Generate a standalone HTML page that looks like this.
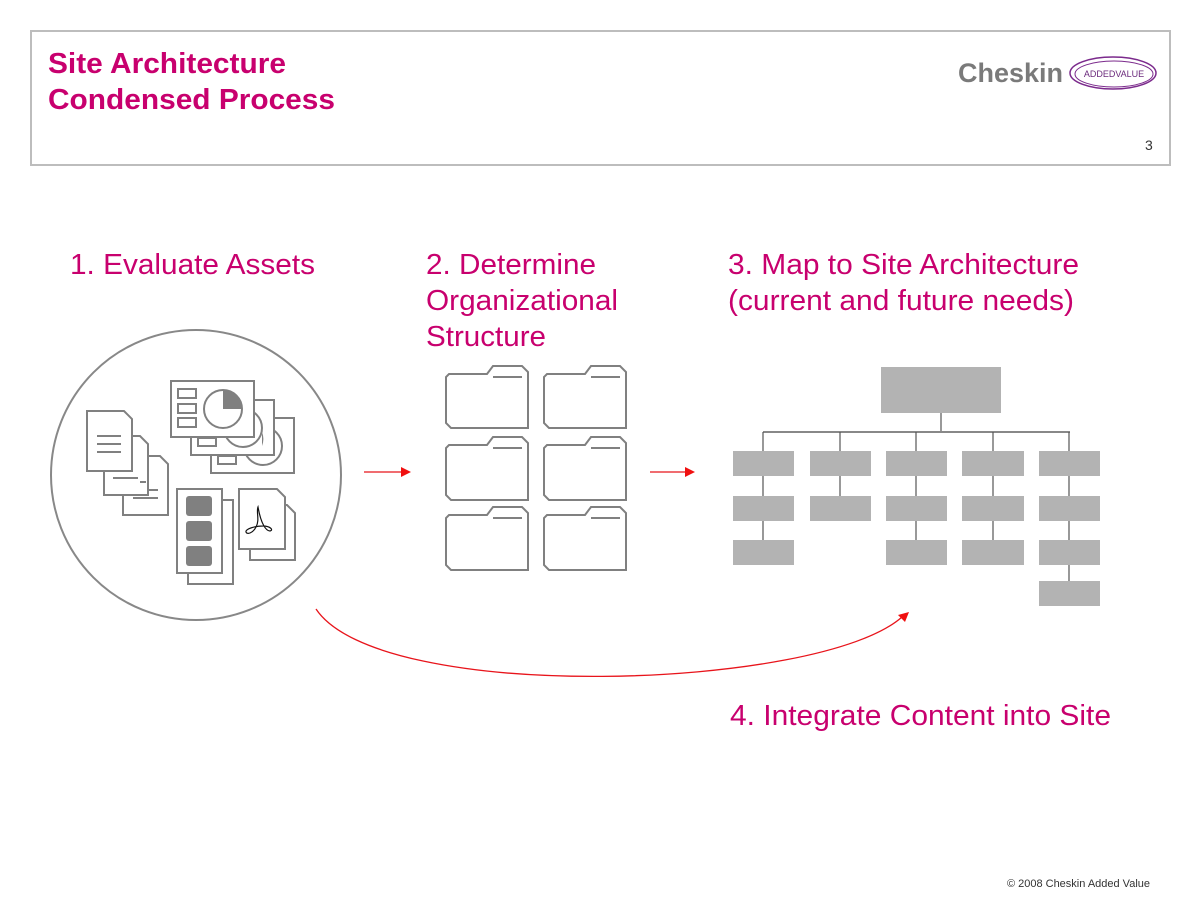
<!DOCTYPE html>
<html><head><meta charset="utf-8"><style>
html,body{margin:0;padding:0;background:#fff;}
svg{display:block;}
text{font-family:"Liberation Sans",Arial,sans-serif;}
</style></head><body>
<svg width="1200" height="900" viewBox="0 0 1200 900" xmlns="http://www.w3.org/2000/svg">
<rect x="31" y="31" width="1139" height="134" fill="#fff" stroke="#bdbdbd" stroke-width="2"/>
<text x="48" y="73" font-size="29" font-weight="bold" fill="#c8006e" textLength="238" lengthAdjust="spacingAndGlyphs">Site Architecture</text>
<text x="48" y="109" font-size="29" font-weight="bold" fill="#c8006e" textLength="287" lengthAdjust="spacingAndGlyphs">Condensed Process</text>
<text x="958" y="82" font-size="27" font-weight="bold" fill="#7a7a7a" textLength="105" lengthAdjust="spacingAndGlyphs">Cheskin</text>
<ellipse cx="1113" cy="73" rx="43" ry="16" fill="none" stroke="#7b2a8c" stroke-width="1.5"/>
<ellipse cx="1114" cy="74" rx="39" ry="13" fill="none" stroke="#7b2a8c" stroke-width="1"/>
<text x="1114" y="77" font-size="9" fill="#6b2a7c" text-anchor="middle">ADDEDVALUE</text>
<text x="1145" y="150" font-size="14" fill="#333">3</text>

<g font-size="29" fill="#c8006e">
<text x="70" y="274" textLength="245" lengthAdjust="spacingAndGlyphs">1. Evaluate Assets</text>
<text x="426" y="274" textLength="170" lengthAdjust="spacingAndGlyphs">2. Determine</text>
<text x="426" y="310" textLength="192" lengthAdjust="spacingAndGlyphs">Organizational</text>
<text x="426" y="346" textLength="120" lengthAdjust="spacingAndGlyphs">Structure</text>
<text x="728" y="274" textLength="351" lengthAdjust="spacingAndGlyphs">3. Map to Site Architecture</text>
<text x="728" y="310" textLength="346" lengthAdjust="spacingAndGlyphs">(current and future needs)</text>
<text x="730" y="725" textLength="381" lengthAdjust="spacingAndGlyphs">4. Integrate Content into Site</text>
</g>

<circle cx="196" cy="475" r="145" fill="none" stroke="#888" stroke-width="2"/>
<g fill="#fff" stroke="#808080" stroke-width="2">
<path d="M123,456 H160 L168,464 V515 H123 Z"/>
<path d="M104,436 H140 L148,444 V495 H104 Z"/>
<path d="M87,411 H124 L132,419 V471 H87 Z"/>
<line x1="97" y1="436" x2="121" y2="436"/><line x1="97" y1="444" x2="121" y2="444"/><line x1="97" y1="452" x2="121" y2="452"/>
<line x1="113" y1="478" x2="138" y2="478"/><line x1="140" y1="482" x2="146" y2="482"/>
<line x1="133" y1="498" x2="158" y2="498"/><line x1="148" y1="490" x2="158" y2="490"/>
<rect x="211" y="418" width="83" height="55"/>
<circle cx="263" cy="446" r="19"/>
<rect x="218" y="456" width="18" height="8"/>
<rect x="191" y="400" width="83" height="55"/>
<circle cx="243" cy="428" r="19"/>
<rect x="198" y="438" width="18" height="8"/>
<rect x="171" y="381" width="83" height="56"/>
<circle cx="223" cy="409" r="19"/>
<rect x="178" y="389" width="18" height="9"/><rect x="178" y="404" width="18" height="9"/><rect x="178" y="418" width="18" height="9"/>
<rect x="188" y="500" width="45" height="84"/>
<rect x="177" y="489" width="45" height="84"/>
<path d="M250,505 H287 L295,513 V560 H250 Z"/>
<path d="M239,489 H277 L285,497 V549 H239 Z"/>
</g>
<path d="M223,409 L223,390 A19,19 0 0 1 242,409 Z" fill="#808080"/>
<path d="M262,432 A19,19 0 0 1 262,446 Z" fill="#808080"/>
<g fill="#808080">
<rect x="186" y="496" width="26" height="20" rx="3"/>
<rect x="186" y="521" width="26" height="20" rx="3"/>
<rect x="186" y="546" width="26" height="20" rx="3"/>
</g>
<path d="M258,507 C256,512 260,520 256,527 C253,533 247,535 246,532 C245,529 255,526 263,526 C270,526 274,530 270,531 C266,531 261,524 258,507 Z" fill="none" stroke="#111" stroke-width="1.2"/>

<g fill="#fff" stroke="#808080" stroke-width="2">
<path d="M449,374 H487 L493,366 H522 L528,372 V428 H451 L446,423 V377 Z"/>
<path d="M547,374 H585 L591,366 H620 L626,372 V428 H549 L544,423 V377 Z"/>
<path d="M449,445 H487 L493,437 H522 L528,443 V500 H451 L446,495 V448 Z"/>
<path d="M547,445 H585 L591,437 H620 L626,443 V500 H549 L544,495 V448 Z"/>
<path d="M449,515 H487 L493,507 H522 L528,513 V570 H451 L446,565 V518 Z"/>
<path d="M547,515 H585 L591,507 H620 L626,513 V570 H549 L544,565 V518 Z"/>
<line x1="493" y1="377" x2="522" y2="377"/><line x1="591" y1="377" x2="620" y2="377"/>
<line x1="493" y1="448" x2="522" y2="448"/><line x1="591" y1="448" x2="620" y2="448"/>
<line x1="493" y1="518" x2="522" y2="518"/><line x1="591" y1="518" x2="620" y2="518"/>
</g>

<g stroke="#555" stroke-width="1.2">
<line x1="941" y1="413" x2="941" y2="432"/>
<line x1="763" y1="432" x2="1070" y2="432" stroke="#888" stroke-width="2"/>
<line x1="763" y1="432" x2="763" y2="540"/>
<line x1="840" y1="432" x2="840" y2="496"/>
<line x1="916" y1="432" x2="916" y2="540"/>
<line x1="993" y1="432" x2="993" y2="540"/>
<line x1="1069" y1="432" x2="1069" y2="581"/>
</g>
<g fill="#b3b3b3">
<rect x="881" y="367" width="120" height="46"/>
<rect x="733" y="451" width="61" height="25"/><rect x="810" y="451" width="61" height="25"/><rect x="886" y="451" width="61" height="25"/><rect x="962" y="451" width="62" height="25"/><rect x="1039" y="451" width="61" height="25"/>
<rect x="733" y="496" width="61" height="25"/><rect x="810" y="496" width="61" height="25"/><rect x="886" y="496" width="61" height="25"/><rect x="962" y="496" width="62" height="25"/><rect x="1039" y="496" width="61" height="25"/>
<rect x="733" y="540" width="61" height="25"/><rect x="886" y="540" width="61" height="25"/><rect x="962" y="540" width="62" height="25"/><rect x="1039" y="540" width="61" height="25"/>
<rect x="1039" y="581" width="61" height="25"/>
</g>

<g stroke="#e8141b" stroke-width="1.3" fill="none">
<line x1="364" y1="472" x2="402" y2="472"/>
<line x1="650" y1="472" x2="686" y2="472"/>
<path d="M316,609 C380,705 820,690 902,617"/>
</g>
<g fill="#f01010">
<path d="M401,467 L411,472 L401,477 Z"/>
<path d="M685,467 L695,472 L685,477 Z"/>
<path d="M909,612 L898,615 L905,622 Z"/>
</g>

<text x="1150" y="887" font-size="11" fill="#333" text-anchor="end">© 2008 Cheskin Added Value</text>
</svg>
</body></html>
